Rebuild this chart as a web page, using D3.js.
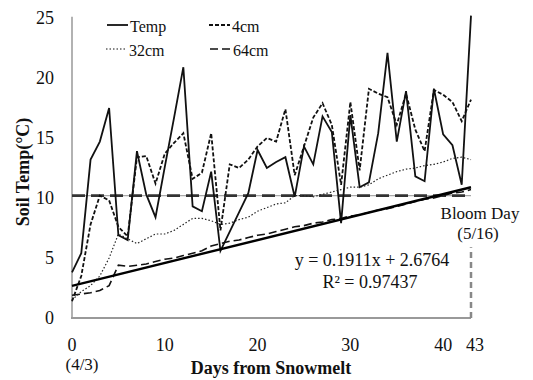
<!DOCTYPE html>
<html><head><meta charset="utf-8">
<script src="https://cdn.jsdelivr.net/npm/d3@7"></script>
<style>body{margin:0;background:#fff}svg{display:block}text{font-family:"Liberation Serif","Times New Roman",serif;fill:#111}</style>
</head><body><svg id="c" width="533" height="380"></svg>
<script>
const days = d3.range(0, 44);
const temp = [3.8,5.4,13.2,14.7,17.5,6.9,6.5,13.9,10.3,8.4,12.6,16.7,20.9,9.3,8.9,12.2,5.6,7.2,8.8,10.4,14.0,12.5,13.0,13.4,10.1,14.3,12.8,16.8,15.5,7.9,16.9,10.9,11.3,15.4,22.1,14.7,18.9,11.8,11.4,19.1,15.3,14.4,11.1,25.2];
const cm4 = [1.4,3.5,7.8,10.2,9.8,7.6,6.8,13.4,13.5,11.2,13.7,14.6,15.4,11.6,12.1,15.4,7.3,12.8,12.5,13.2,14.3,15.0,14.7,17.4,11.9,14.3,16.7,17.9,16.1,11.1,18.0,12.3,19.1,18.7,18.4,16.1,18.7,15.7,13.9,19.0,18.6,18.0,16.4,18.2];
const cm32 = [1.5,2.2,2.7,3.5,5.0,7.0,6.6,6.2,6.6,7.0,7.0,7.3,7.8,8.3,8.3,8.1,7.8,7.9,8.2,8.4,8.9,9.2,9.5,9.6,10.2,10.2,10.1,10.3,10.5,10.7,10.9,10.9,11.1,11.6,11.9,12.2,12.4,12.5,12.7,12.8,13.0,13.3,13.4,13.2];
const cm64 = [1.9,2.0,2.1,2.3,2.7,4.4,4.3,4.4,4.5,4.7,4.9,5.0,5.2,5.4,5.6,6.0,6.2,6.4,6.5,6.7,6.9,7.0,7.2,7.4,7.6,7.7,7.9,8.0,8.2,8.3,8.5,8.6,8.8,9.0,9.1,9.3,9.5,9.7,9.9,10.0,10.2,10.4,10.5,10.7];
const threshold = 10.2;
const trend = {slope: 0.1911, intercept: 2.6764, r2: "0.97437"};
const yTicks = [0,5,10,15,20,25];
const xTicks = [0,10,20,30,40,43];
const bloomDay = 43;

const svg = d3.select("#c");
const x = d3.scaleLinear().domain([0,43]).range([72,471]);
const y = d3.scaleLinear().domain([0,25]).range([318,18]);

// axes
svg.append("line").attr("x1",72).attr("x2",72).attr("y1",y(25.1)).attr("y2",y(0)).attr("stroke","#999").attr("stroke-width",1.5);
svg.append("line").attr("x1",71).attr("x2",x(43)).attr("y1",y(0)).attr("y2",y(0)).attr("stroke","#999").attr("stroke-width",2);
svg.append("line").attr("x1",x(bloomDay)).attr("x2",x(bloomDay)).attr("y1",y(0)).attr("y2",y(5.9)).attr("stroke","#888").attr("stroke-width",2.5).attr("stroke-dasharray","6,4");

svg.selectAll(".yt").data(yTicks).enter().append("text").attr("x",54).attr("y",d=>y(d)+6).attr("text-anchor","end").attr("font-size",18).text(d=>d);
svg.selectAll(".xt").data(xTicks).enter().append("text").attr("x",d=>x(d)+(d===43?4:0)).attr("y",351).attr("text-anchor","middle").attr("font-size",18).text(d=>d);
svg.append("text").attr("x",82).attr("y",370).attr("text-anchor","middle").attr("font-size",17).text("(4/3)");
svg.append("text").attr("x",271).attr("y",374).attr("text-anchor","middle").attr("font-size",18).attr("font-weight","bold").text("Days from Snowmelt");
svg.append("text").attr("transform","translate(29,172) rotate(-90)").attr("text-anchor","middle").attr("font-size",18).attr("font-weight","bold").text("Soil Temp(°C)");

// threshold line
svg.append("line").attr("x1",x(0)).attr("x2",x(43)).attr("y1",y(threshold)).attr("y2",y(threshold)).attr("stroke","#aaa").attr("stroke-width",1.2);
svg.append("line").attr("x1",x(0)).attr("x2",x(43)).attr("y1",y(threshold)).attr("y2",y(threshold)).attr("stroke","#333").attr("stroke-width",2.6).attr("stroke-dasharray","13,6");

const line = d3.line().x((d,i)=>x(days[i])).y(d=>y(d));
svg.append("path").datum(cm64).attr("d",line).attr("fill","none").attr("stroke","#111").attr("stroke-width",1.6).attr("stroke-dasharray","8,4");
svg.append("path").datum(cm32).attr("d",line).attr("fill","none").attr("stroke","#222").attr("stroke-width",1.2).attr("stroke-dasharray","1.5,2");
svg.append("path").datum(cm4).attr("d",line).attr("fill","none").attr("stroke","#111").attr("stroke-width",1.8).attr("stroke-dasharray","4,2");
svg.append("path").datum(temp).attr("d",line).attr("fill","none").attr("stroke","#111").attr("stroke-width",1.8);

// trend
svg.append("line").attr("x1",x(0)).attr("x2",x(43)).attr("y1",y(trend.intercept)).attr("y2",y(trend.intercept+trend.slope*43)).attr("stroke","#000").attr("stroke-width",2.4);

svg.append("text").attr("x",372).attr("y",266).attr("text-anchor","middle").attr("font-size",18).text(`y = ${trend.slope}x + ${trend.intercept}`);
svg.append("text").attr("x",370).attr("y",288).attr("text-anchor","middle").attr("font-size",18).text(`R² = ${trend.r2}`);
svg.append("text").attr("x",480).attr("y",219).attr("text-anchor","middle").attr("font-size",17).text("Bloom Day");
svg.append("text").attr("x",478).attr("y",239).attr("text-anchor","middle").attr("font-size",17).text("(5/16)");

// legend
const leg = [
 {name:"Temp", lx:107, ly:27, dash:null, w:1.8},
 {name:"4cm", lx:209, ly:27, dash:"4,2", w:1.8},
 {name:"32cm", lx:106, ly:51, dash:"1.5,2", w:1.2},
 {name:"64cm", lx:210, ly:51, dash:"8,4", w:1.6}
];
leg.forEach(l=>{
  svg.append("line").attr("x1",l.lx).attr("x2",l.lx+21).attr("y1",l.ly-2).attr("y2",l.ly-2).attr("stroke","#111").attr("stroke-width",l.w).attr("stroke-dasharray",l.dash);
  svg.append("text").attr("x",l.lx+23).attr("y",l.ly+5).attr("font-size",16).text(l.name);
});
</script></body></html>
